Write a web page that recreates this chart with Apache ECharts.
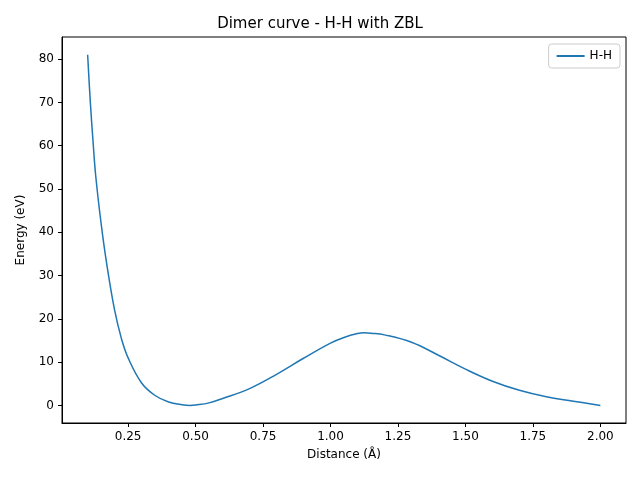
<!DOCTYPE html>
<html><head><meta charset="utf-8">
<script src="https://cdn.jsdelivr.net/npm/echarts@6/dist/echarts.min.js"></script>
<style>html,body{margin:0;padding:0;background:#fff}#c{width:640px;height:480px}</style>
</head><body><div id="c"></div>
<script>
const distance = [0.1,0.11,0.12,0.13,0.15,0.17,0.2,0.225,0.25,0.3,0.35,0.4,0.45,0.48,0.5,0.55,0.6,0.7,0.8,0.9,1.0,1.05,1.1,1.125,1.15,1.2,1.3,1.4,1.5,1.6,1.7,1.8,1.9,2.0];
const energy   = [81,70,61,53,42,33,22,15.5,11,5.2,2.3,0.8,0.15,0.0,0.1,0.6,1.6,3.9,7.2,10.9,14.4,15.7,16.6,16.8,16.7,16.3,14.6,11.6,8.4,5.6,3.5,2.0,1.0,0.0];
const xTicks = [0.25,0.5,0.75,1.0,1.25,1.5,1.75,2.0];
const yTicks = [0,10,20,30,40,50,60,70,80];
const font = 'DejaVu Sans';
const chart = echarts.init(document.getElementById('c'));
chart.setOption({
  animation:false,
  textStyle:{fontFamily:font},
  title:{text:'Dimer curve - H-H with ZBL',left:'center',top:12,textStyle:{fontFamily:font,fontSize:15,fontWeight:'normal',color:'#000'}},
  legend:{data:['H-H'],right:20,top:44,orient:'vertical',itemWidth:28,itemHeight:2,icon:'rect',
    borderColor:'#ccc',borderWidth:1,borderRadius:3,padding:[6,8],textStyle:{fontFamily:font,fontSize:12,color:'#000'}},
  grid:{left:62,right:14,top:37,bottom:57,show:true,borderColor:'#000',borderWidth:1},
  xAxis:{type:'value',min:0.005,max:2.095,name:'Distance (Å)',nameLocation:'middle',nameGap:26,
    nameTextStyle:{fontFamily:font,fontSize:12,color:'#000'},
    axisLine:{onZero:false,lineStyle:{color:'#000'}},splitLine:{show:false},
    axisTick:{customValues:xTicks,length:4,inside:false,lineStyle:{color:'#000'}},
    axisLabel:{customValues:xTicks,color:'#000',fontSize:12,formatter:v=>v.toFixed(2)}},
  yAxis:{type:'value',min:-4.05,max:85.1,name:'Energy (eV)',nameLocation:'middle',nameGap:35,
    nameTextStyle:{fontFamily:font,fontSize:12,color:'#000'},
    axisLine:{show:true,onZero:false,lineStyle:{color:'#000'}},splitLine:{show:false},
    axisTick:{show:true,customValues:yTicks,length:4,lineStyle:{color:'#000'}},
    axisLabel:{customValues:yTicks,color:'#000',fontSize:12}},
  series:[{name:'H-H',type:'line',smooth:0.4,showSymbol:false,
    data:distance.map((d,i)=>[d,energy[i]]),lineStyle:{color:'#1f77b4',width:1.5},itemStyle:{color:'#1f77b4'}}]
});
</script></body></html>
